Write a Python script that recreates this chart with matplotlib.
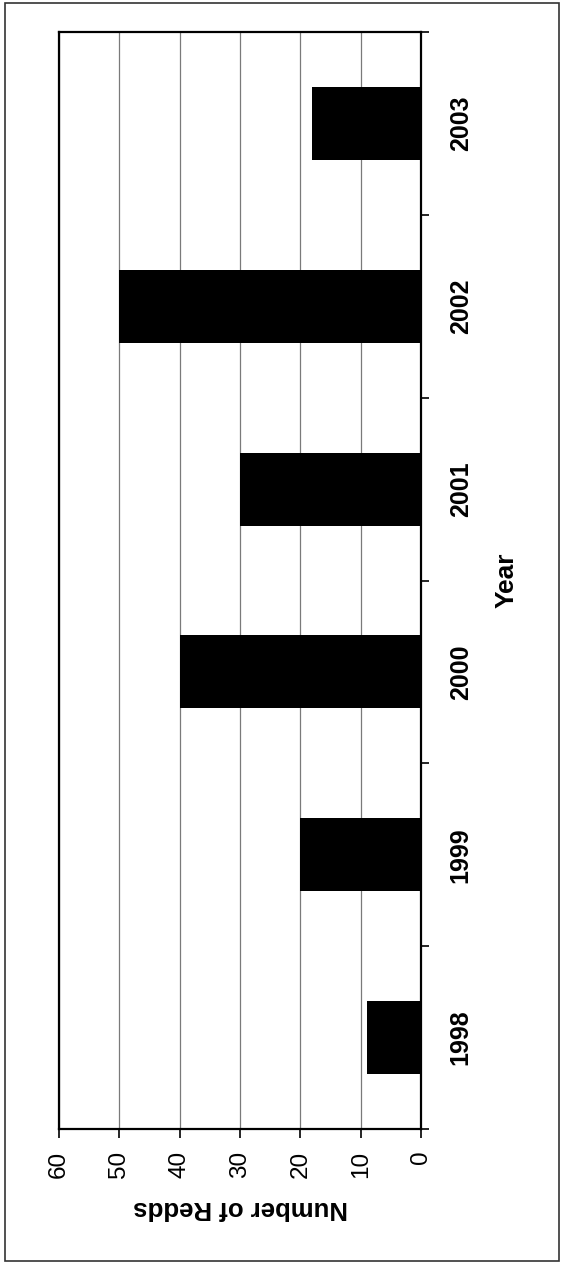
import matplotlib
matplotlib.use("Agg")
import matplotlib.pyplot as plt
from matplotlib.patches import Rectangle
import numpy as np

plt.rcParams['font.family'] = ['Liberation Sans', 'DejaVu Sans']

# Redd counts per survey year
years = ["1998", "1999", "2000", "2001", "2002", "2003"]
redds = [9, 20, 40, 30, 50, 18]
value_ticks = [0, 10, 20, 30, 40, 50, 60]

W, H = 561, 1264
fig = plt.figure(figsize=(W / 100, H / 100), dpi=100)

# plot area in pixel coordinates
left_px, right_px, top_px, bottom_px = 59, 421, 32, 1129
ax = fig.add_axes([left_px / W, 1 - bottom_px / H,
                   (right_px - left_px) / W, (bottom_px - top_px) / H])

pos = np.arange(len(years))
ax.barh(pos, redds, height=0.4, color='black', zorder=3)

ax.set_ylim(-0.5, len(years) - 0.5)
ax.set_xlim(60, 0)

# value axis along the bottom
ax.set_xticks(value_ticks)
ax.set_xticklabels([str(v) for v in value_ticks], rotation=90,
                   fontsize=17.5, va='top', ha='center')
ax.tick_params(axis='x', direction='out', length=6.5, width=1.2,
               pad=9, colors='black')
ax.xaxis.grid(True, color='#7a7a7a', linewidth=0.9, zorder=0)

# category axis on the right, ticks between categories
ax.yaxis.tick_right()
ax.set_yticks(pos)
ax.set_yticklabels(years, rotation=90, fontsize=18, fontweight='bold',
                   va='center', ha='left')
ax.set_yticks(np.arange(-0.5, len(years), 1.0), minor=True)
ax.tick_params(axis='y', which='major', length=0, pad=20)
ax.tick_params(axis='y', which='minor', length=6, width=1.2,
               direction='out')

for s in ax.spines.values():
    s.set_color('black')
    s.set_linewidth(1.6)

fig.text(241 / W, 1 - 1208 / H, "Number of Redds", rotation=180,
         fontsize=18.5, fontweight='bold', ha='center', va='center')
fig.text(507 / W, 1 - 580 / H, "Year", rotation=90,
         fontsize=19, fontweight='bold', ha='center', va='center')

# outer frame
fig.patches.append(Rectangle((5 / W, 1 - 1261 / H), 554 / W, 1258 / H,
                             transform=fig.transFigure, fill=False,
                             edgecolor='#333333', linewidth=1.2))

fig.savefig("out.png", dpi=100)
